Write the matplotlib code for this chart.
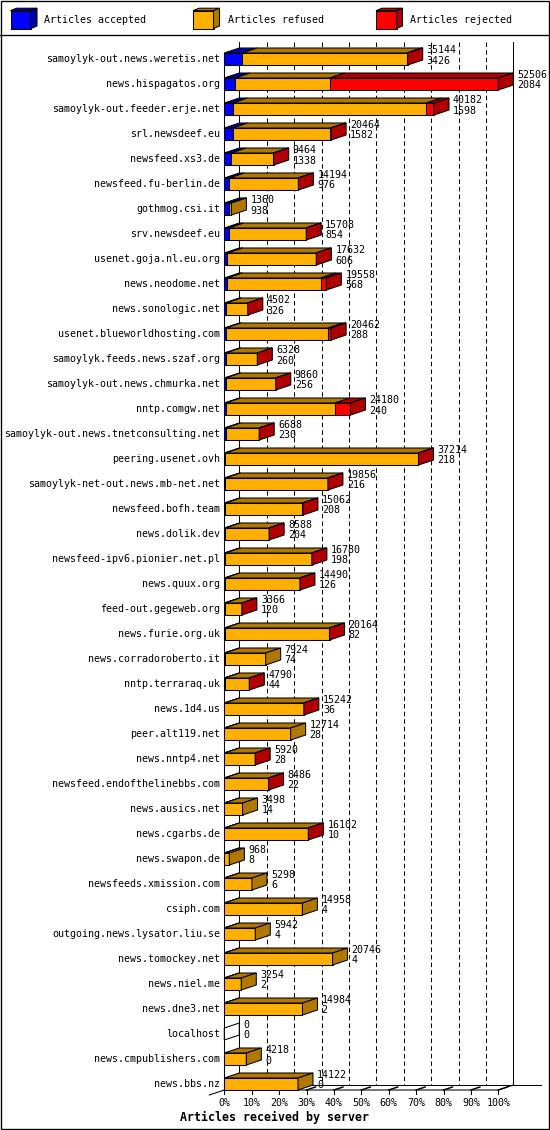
import matplotlib
matplotlib.use("Agg")
import matplotlib.pyplot as plt
from matplotlib.patches import Polygon, Rectangle
import numpy as np

# DATA
servers = [
    "samoylyk-out.news.weretis.net", "news.hispagatos.org", "samoylyk-out.feeder.erje.net",
    "srl.newsdeef.eu", "newsfeed.xs3.de", "newsfeed.fu-berlin.de", "gothmog.csi.it",
    "srv.newsdeef.eu", "usenet.goja.nl.eu.org", "news.neodome.net", "news.sonologic.net",
    "usenet.blueworldhosting.com", "samoylyk.feeds.news.szaf.org", "samoylyk-out.news.chmurka.net",
    "nntp.comgw.net", "samoylyk-out.news.tnetconsulting.net", "peering.usenet.ovh",
    "samoylyk-net-out.news.mb-net.net", "newsfeed.bofh.team", "news.dolik.dev",
    "newsfeed-ipv6.pionier.net.pl", "news.quux.org", "feed-out.gegeweb.org", "news.furie.org.uk",
    "news.corradoroberto.it", "nntp.terraraq.uk", "news.1d4.us", "peer.alt119.net",
    "news.nntp4.net", "newsfeed.endofthelinebbs.com", "news.ausics.net", "news.cgarbs.de",
    "news.swapon.de", "newsfeeds.xmission.com", "csiph.com", "outgoing.news.lysator.liu.se",
    "news.tomockey.net", "news.niel.me", "news.dne3.net", "localhost",
    "news.cmpublishers.com", "news.bbs.nz",
]
offered = np.array([
    35144, 52506, 40182, 20464, 9464, 14194, 1360, 15708, 17632, 19558, 4502,
    20462, 6328, 9860, 24180, 6688, 37214, 19856, 15062, 8588, 16780, 14490,
    3366, 20164, 7924, 4790, 15242, 12714, 5920, 8486, 3498, 16102, 968, 5298,
    14958, 5942, 20746, 3254, 14984, 0, 4218, 14122,
])
accepted = np.array([
    3426, 2084, 1598, 1582, 1338, 976, 938, 854, 606, 568, 326, 288, 260, 256,
    240, 230, 218, 216, 208, 204, 198, 126, 120, 82, 74, 44, 36, 28, 28, 22,
    14, 10, 8, 6, 4, 4, 4, 2, 2, 0, 0, 0,
])
rejected = np.array([
    200, 32300, 1480, 120, 90, 60, 0, 80, 70, 1100, 40, 600, 30, 40, 2950, 30,
    40, 60, 80, 30, 50, 60, 20, 60, 0, 20, 50, 0, 30, 40, 0, 40, 0, 0, 0, 0,
    0, 0, 0, 0, 0, 0,
])
refused = offered - accepted - rejected

legend_labels = ["Articles accepted", "Articles refused", "Articles rejected"]
ticks = np.arange(0, 101, 10)

colors = ["#0000ff", "#ffaf00", "#ff0000"]
darks = ["#0000a8", "#b07800", "#b00000"]

W, H = 550, 1130
MONO = "DejaVu Sans Mono"
FS = 7.2
LW = 0.75

fig = plt.figure(figsize=(W / 100, H / 100), dpi=100)
fig.patch.set_facecolor("white")

# background axes in pixel units for frame + legend
bg = fig.add_axes([0, 0, 1, 1])
bg.set_xlim(0, W)
bg.set_ylim(H, 0)
bg.axis("off")
bg.add_patch(Rectangle((0.5, 0.5), W - 1.5, H - 1.5, fill=False, lw=LW * 1.3, ec="black"))
bg.plot([0, W], [35, 35], color="black", lw=LW * 1.3)

def cube(a, x0, x1, y0, y1, dx, dy, face, dark, z, side=True):
    a.add_patch(Rectangle((x0, y0), x1 - x0, y1 - y0, fc=face, ec="black", lw=LW,
                          zorder=z, clip_on=False))
    a.add_patch(Polygon([(x0, y0), (x1, y0), (x1 + dx, y0 + dy), (x0 + dx, y0 + dy)],
                        fc=dark, ec="black", lw=LW, zorder=z + 0.1, clip_on=False))
    if side:
        a.add_patch(Polygon([(x1, y0), (x1 + dx, y0 + dy), (x1 + dx, y1 + dy), (x1, y1)],
                            fc=dark, ec="black", lw=LW, zorder=z + 0.2, clip_on=False))

for lx, tx, lab, c, d in zip([10.5, 193, 376], [44, 228, 410], legend_labels, colors, darks):
    cube(bg, lx, lx + 20.5, 10.7, 28.5, 6, -2.5, c, d, 3)
    bg.text(tx, 20, lab, fontsize=FS, family=MONO, va="center", ha="left")

bg.text(275, 1117, "Articles received by server", fontsize=8.4, family=MONO,
        fontweight="bold", ha="center", va="center")

# main chart axes: x = percent of max, y = row index
n = len(servers)
x0px, x1px, ytop, ybot = 224.3, 498.3, 42, 1090
ax = fig.add_axes([x0px / W, (H - ybot) / H, (x1px - x0px) / W, (ybot - ytop) / H])
floor_y = (n - 1) + 6 / 25
ax.set_xlim(0, 100)
ax.set_ylim(floor_y, floor_y - (ybot - ytop) / 25)
ax.axis("off")

pxx = (x1px - x0px) / 100.0
pxy = 25.0
DX = 15 / pxx
DY = -5 / pxy
HB = 6 / pxy
top_y = ax.get_ylim()[1]
back_floor = floor_y + DY

# back wall gridlines
for t in ticks:
    if t in (0, 100):
        ax.plot([t + DX, t + DX], [top_y, back_floor], color="black", lw=LW, zorder=1, clip_on=False)
    else:
        ax.plot([t + DX, t + DX], [top_y, back_floor], color="black", lw=LW, zorder=1,
                linestyle=(0, (4.3, 3.0)), clip_on=False)
ax.plot([DX, 100 + DX + 28 / pxx], [back_floor, back_floor], color="black", lw=LW, zorder=1, clip_on=False)

# front floor and left axis
ax.plot([0, 100, 100 + DX], [floor_y, floor_y, back_floor], color="black", lw=LW, zorder=1, clip_on=False)
ax.plot([-DX, DX], [floor_y - DY, back_floor], color="black", lw=LW, zorder=1, clip_on=False)
ax.plot([0, 0], [-HB, floor_y], color="black", lw=LW, zorder=1, clip_on=False)
for t in ticks:
    ax.plot([t, t], [floor_y, floor_y + 4 / pxy], color="black", lw=LW, zorder=1, clip_on=False)
    if t > 0:
        ax.plot([t, t + 0.6 * DX], [floor_y, floor_y + 0.6 * DY], color="black", lw=LW * 1.4,
                zorder=1, clip_on=False)
    ax.text(t, floor_y + 13 / pxy, "%d%%" % t, fontsize=FS, family=MONO, ha="center", va="center")

# bars
vmax = offered.max()
z = 2
for i in range(n):
    segs = [accepted[i], refused[i], rejected[i]]
    left = 0.0
    last = max([k for k in range(3) if segs[k] > 0], default=-1)
    for k in range(3):
        if segs[k] <= 0:
            continue
        w = segs[k] / vmax * 100
        cube(ax, left, left + w, i - HB, i + HB, DX, DY, colors[k], darks[k], z, side=(k == last))
        left += w
        z += 1
    if last < 0:
        ax.add_patch(Polygon([(0, i - HB), (DX, i - HB + DY), (DX, i + HB + DY), (0, i + HB)],
                             fill=False, ec="black", lw=LW, zorder=z, clip_on=False))
    end = offered[i] / vmax * 100
    lx = end + DX + 4 / pxx
    ax.text(lx, i - 9 / pxy, str(offered[i]), fontsize=FS, family=MONO, ha="left", va="center", zorder=200)
    ax.text(lx, i + 1.5 / pxy, str(accepted[i]), fontsize=FS, family=MONO, ha="left", va="center", zorder=200)
    ax.text(-4.3 / pxx, i, servers[i], fontsize=FS, family=MONO, ha="right", va="center")

fig.savefig("out.png", dpi=100)
